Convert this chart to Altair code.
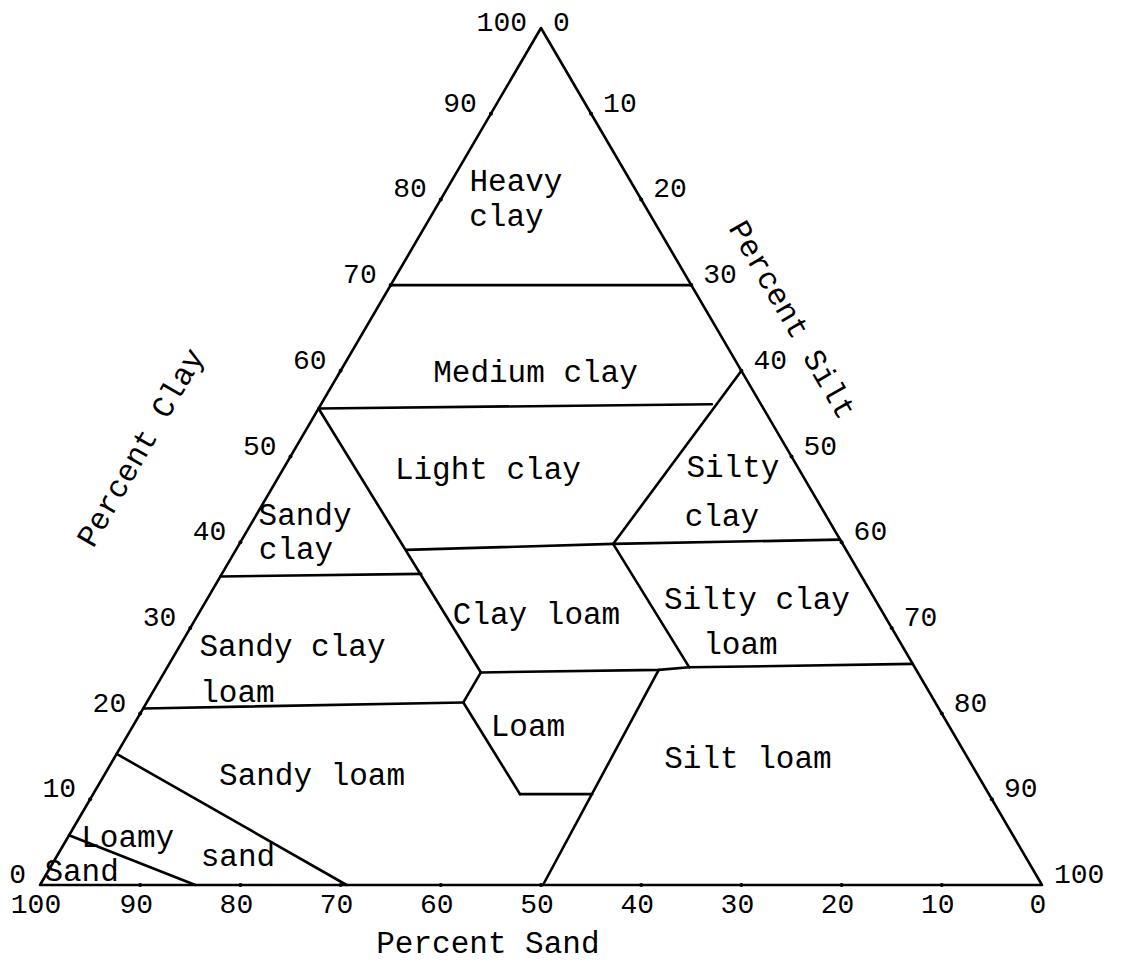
import altair as alt
import pandas as pd

FONT = "Liberation Mono"

# ---- class boundaries: vertices given as (sand %, clay %) ----
SEG_NAMES = [
    "outline", "heavy_medium", "medium_light", "silty_clay_left", "sand44",
    "clay40", "sandyclay_scl", "sicl_left", "clay25", "scl_sl",
    "loam_ul", "loam_left", "loam_bottom", "siltloam_left", "ls_sl", "sand_ls",
]
SEG_SAND = [
    [100, 0, 0, 100],
    [30, 0],
    [44.4, 4.9],
    [0, 22.9],
    [44.4, 43.6],
    [43.9, 22.9, 0],
    [64, 43.8],
    [22.9, 22.5],
    [43.6, 25.7, 22.5, 0],
    [79.4, 47.1],
    [47.1, 43.6],
    [47.1, 46.8],
    [46.8, 39.6],
    [25.7, 49.8],
    [84.7, 69.4],
    [94.2, 84.5],
]
SEG_CLAY = [
    [0, 0, 100, 0],
    [70, 70],
    [55.6, 56.1],
    [60, 39.8],
    [55.6, 24.8],
    [39.1, 39.8, 40.3],
    [36, 36.3],
    [39.8, 25.4],
    [24.8, 25.1, 25.4, 25.8],
    [20.6, 21.3],
    [21.3, 24.8],
    [21.3, 10.6],
    [10.6, 10.6],
    [25.1, 0],
    [15.3, 0],
    [5.8, 0],
]

# ---- axis tick values ----
TICKS = [0, 10, 20, 30, 40, 50, 60, 70, 80, 90, 100]

# ---- texture class labels: text, sand %, clay % (centre of each text line) ----
REGION_TEXT = ["Heavy", "clay", "Medium clay", "Light clay", "Silty", "clay",
               "Sandy", "clay", "Clay loam", "Sandy clay", "loam", "Silty clay",
               "loam", "Loam", "Sandy loam", "Silt loam", "Loamy", "sand", "Sand"]
REGION_SAND = [11.5, 14.5, 20.7, 31.1, 6.5, 10.5, 52.0, 54.9, 34.7, 60.9, 69.1,
               11.8, 16.1, 42.1, 66.5, 22.0, 88.5, 78.6, 95.1]
REGION_CLAY = [82.0, 77.9, 59.7, 48.4, 48.7, 42.9, 43.1, 39.1, 31.5, 27.8, 22.4,
               33.3, 28.0, 18.4, 12.7, 14.7, 5.5, 3.3, 1.5]

# ---- axis titles: text, x, y (chart units), angle ----
TITLE_TEXT = ["Percent Sand", "Percent Clay", "Percent Silt"]
TITLE_X = [44.7, 10.1, 75.0]
TITLE_Y = [-6.9, 51.0, 65.9]
TITLE_ANGLE = [0, 300, 60]


def to_xy(sand, clay):
    silt = 100 - sand - clay
    return silt + clay / 2.0, clay


rows = []
for name, sands, clays in zip(SEG_NAMES, SEG_SAND, SEG_CLAY):
    for i, (s, c) in enumerate(zip(sands, clays)):
        x, y = to_xy(s, c)
        rows.append({"seg": name, "ord": i, "x": x, "y": y})
lines_df = pd.DataFrame(rows)

clay_ticks = pd.DataFrame([{"x": to_xy(100 - v, v)[0], "y": v, "v": v, "label": str(v)} for v in TICKS])
silt_ticks = pd.DataFrame([{"x": to_xy(0, 100 - v)[0], "y": 100 - v, "v": v, "label": str(v)} for v in TICKS])
sand_ticks = pd.DataFrame([{"x": to_xy(v, 0)[0], "y": 0, "v": v, "label": str(v)} for v in TICKS])
dots = pd.concat([clay_ticks, silt_ticks, sand_ticks])
dots = dots[(dots["v"] != 0) & (dots["v"] != 100)]

region_df = pd.DataFrame([
    {"x": to_xy(s, c)[0], "y": to_xy(s, c)[1], "label": t}
    for t, s, c in zip(REGION_TEXT, REGION_SAND, REGION_CLAY)
])

xs = alt.Scale(domain=[0, 100], nice=False, zero=False)
ys = alt.Scale(domain=[0, 100], nice=False, zero=False)
X = alt.X("x:Q", scale=xs, axis=None)
Y = alt.Y("y:Q", scale=ys, axis=None)

lines = alt.Chart(lines_df).mark_line(
    color="black", strokeWidth=2.6, strokeCap="round", strokeJoin="round"
).encode(x=X, y=Y, detail="seg:N", order="ord:Q")

tick_dots = alt.Chart(dots).mark_circle(color="black", size=16, opacity=1).encode(x=X, y=Y)


def tick_text(df, align, dx, dy):
    return alt.Chart(df).mark_text(
        font=FONT, fontSize=28, align=align, baseline="middle", dx=dx, dy=dy, color="black"
    ).encode(x=X, y=Y, text="label:N")


clay_lab = tick_text(clay_ticks[clay_ticks["v"] < 100], "right", -14, -10)
clay_top = tick_text(clay_ticks[clay_ticks["v"] == 100], "right", -14, -5)
silt_lab = tick_text(silt_ticks[silt_ticks["v"] > 0], "left", 12, -10)
silt_top = tick_text(silt_ticks[silt_ticks["v"] == 0], "left", 12, -5)
sand_lab = tick_text(sand_ticks, "center", -4, 20)

regions = alt.Chart(region_df).mark_text(
    font=FONT, fontSize=31, align="center", baseline="middle", color="black"
).encode(x=X, y=Y, text="label:N")

titles = []
for t, tx, ty, ang in zip(TITLE_TEXT, TITLE_X, TITLE_Y, TITLE_ANGLE):
    df = pd.DataFrame([{"x": tx, "y": ty, "label": t}])
    titles.append(
        alt.Chart(df).mark_text(
            font=FONT, fontSize=31, align="center", baseline="middle", angle=ang, color="black"
        ).encode(x=X, y=Y, text="label:N")
    )

chart = alt.layer(
    lines, tick_dots, clay_lab, clay_top, silt_lab, silt_top, sand_lab, regions, *titles
).properties(
    width=1002,
    height=857,
    padding={"left": 32, "top": 20, "right": 70, "bottom": 76},
    autosize=alt.AutoSizeParams(type="none"),
    background="white",
).configure_view(stroke=None)

chart.save("out.html", embed_options={"renderer": "svg", "actions": False})
